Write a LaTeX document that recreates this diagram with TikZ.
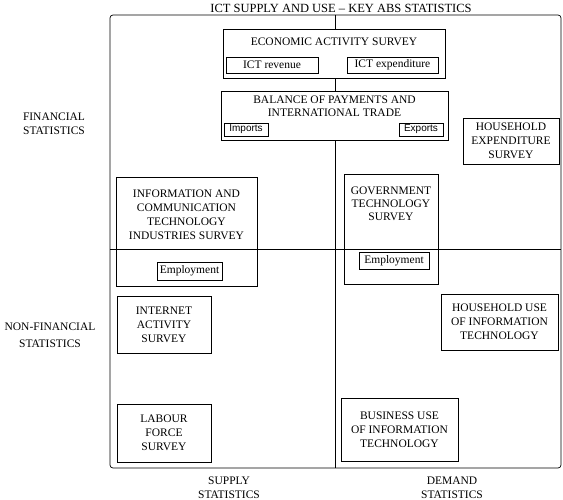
\documentclass[tikz,border=0pt]{standalone}
\usepackage{fontspec}
\setmainfont{Liberation Serif}
\setsansfont{Liberation Sans}
\usepackage{tikz}
\usetikzlibrary{positioning, calc}

\begin{document}
\begin{tikzpicture}[x=1pt, y=-1pt, line width=0.7pt,
    box/.style={draw, fill=white, inner sep=0pt, align=center,
        font=\fontsize{11.5}{14}\selectfont},
    txt/.style={inner sep=0pt, align=center, font=\fontsize{11.5}{14}\selectfont},
    tag/.style={draw, fill=white, inner sep=0pt, font=\fontsize{11.5}{14}\selectfont},
    tagsf/.style={draw, fill=white, inner sep=0pt, font=\sffamily\fontsize{10}{12}\selectfont}]
    \useasboundingbox (0,0) rectangle (563,500);

    % Frame and quadrant split
    \node[draw, rounded corners=3pt, minimum width=451pt, minimum height=453pt, inner sep=0pt]
        (frame) at (335.5,241.5) {};
    \coordinate (midw) at (110,249);
    \coordinate (mide) at (561,249);
    \draw (frame.north) -- (frame.south);

    % Headings round the frame
    \node[txt, font=\fontsize{12.5}{14}\selectfont] (title) at (341,8) {ICT SUPPLY AND USE -- KEY ABS STATISTICS};
    \node[txt] (fin) at (54,123.5) {FINANCIAL\\STATISTICS};
    \node[txt, font=\fontsize{11.5}{16.5}\selectfont] (nonfin) at (50,335) {NON-FINANCIAL\\STATISTICS};
    \node[txt] (supply) at (229,487.5) {SUPPLY\\STATISTICS};
    \node[txt] (demand) at (452,487.5) {DEMAND\\STATISTICS};

    % Economic activity survey
    \node[box, minimum width=222pt, minimum height=49pt] (eas) at (334,53.5) {};
    \node[txt] (easlbl) at (334,42) {ECONOMIC ACTIVITY SURVEY};
    \node[tag, minimum width=92pt, minimum height=16pt] (rev) at (272,65) {ICT revenue};
    \node[tag, minimum width=91pt, minimum height=16pt] (expd) at (392.5,65) {ICT expenditure};

    % Balance of payments
    \node[box, minimum width=227pt, minimum height=49pt] (bop) at (334.5,115.5) {};
    \node[txt, font=\fontsize{11.5}{13}\selectfont] (boplbl) at (334.5,106.5) {BALANCE OF PAYMENTS AND\\INTERNATIONAL TRADE};
    \node[tagsf, minimum width=44pt, minimum height=13pt] (imp) at (246,129.5) {Imports};
    \node[tagsf, minimum width=44pt, minimum height=13pt] (expo) at (421,129.5) {Exports};

    % Household expenditure
    \node[box, minimum width=96pt, minimum height=46pt] (hes) at (511,141) {HOUSEHOLD\\EXPENDITURE\\SURVEY};

    % ICT industries survey
    \node[box, minimum width=141pt, minimum height=109pt] (icti) at (186.5,231.5) {};
    \node[txt] (ictilbl) at (186.5,215) {INFORMATION AND\\COMMUNICATION\\TECHNOLOGY\\INDUSTRIES SURVEY};
    \node[tag, minimum width=65pt, minimum height=18pt] (emp1) at (189.5,271) {Employment};

    % Government technology survey
    \node[box, minimum width=94pt, minimum height=110pt] (gts) at (391,229) {};
    \node[txt, font=\fontsize{11.5}{13}\selectfont] (gtslbl) at (391,204) {GOVERNMENT\\TECHNOLOGY\\SURVEY};
    \node[tag, minimum width=70pt, minimum height=17pt] (emp2) at (394,260.5) {Employment};

    % Non-financial surveys
    \node[box, minimum width=94pt, minimum height=57pt] (ias) at (164,324.5) {INTERNET\\ACTIVITY\\SURVEY};
    \node[box, minimum width=94pt, minimum height=58pt] (lfs) at (164,433) {LABOUR\\FORCE\\SURVEY};
    \node[box, minimum width=117pt, minimum height=56pt] (huit) at (499.5,322) {HOUSEHOLD USE\\OF INFORMATION\\TECHNOLOGY};
    \node[box, minimum width=117pt, minimum height=63pt] (buit) at (399.5,429.5) {BUSINESS USE\\OF INFORMATION\\TECHNOLOGY};

    \draw (midw) -- (mide);
\end{tikzpicture}
\end{document}
